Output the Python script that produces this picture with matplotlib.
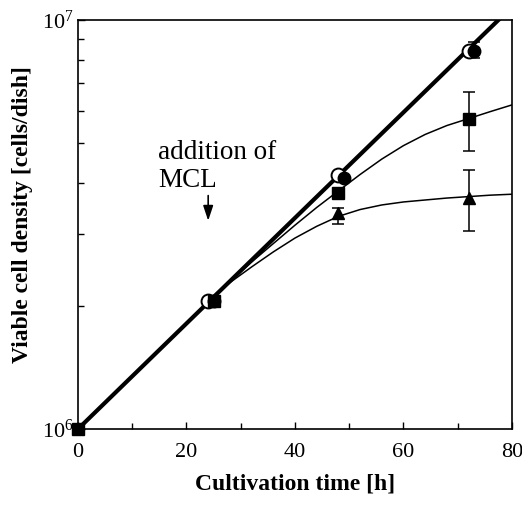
import numpy as np
import matplotlib
matplotlib.use("Agg")
import matplotlib.pyplot as plt
from matplotlib.ticker import LogLocator, FixedLocator, NullFormatter

plt.rcParams["font.family"] = ["Liberation Serif", "DejaVu Serif"]
plt.rcParams["mathtext.fontset"] = "custom"
plt.rcParams["mathtext.rm"] = "Liberation Serif"
plt.rcParams["mathtext.it"] = "Liberation Serif:italic"

# control (open circles) and the exponential growth line
ctrl_t = [0, 24, 48, 72]
ctrl_n = [1.0e6, 2.06e6, 4.18e6, 8.40e6]
line_t = [0, 80]
line_n = [1.0e6, 1.077e7]

# filled circles
fc_t = [25, 49, 73]
fc_n = [2.06e6, 4.11e6, 8.40e6]
fc_lo = [2.06e6, 4.11e6, 8.08e6]
fc_hi = [2.06e6, 4.11e6, 8.84e6]

# filled squares
sq_t = [0, 25, 48, 72]
sq_n = [1.0e6, 2.06e6, 3.78e6, 5.73e6]
sq_lo = [1.0e6, 2.06e6, 3.78e6, 4.78e6]
sq_hi = [1.0e6, 2.06e6, 3.78e6, 6.67e6]

# triangles
tr_t = [48, 72]
tr_n = [3.37e6, 3.67e6]
tr_lo = [3.17e6, 3.05e6]
tr_hi = [3.47e6, 4.30e6]

# fitted curves after the MCL addition
curve_t = [24, 28, 32, 36, 40, 44, 48, 52, 56, 60, 64, 68, 72, 76, 80]
sq_curve_n = [2.06e6, 2.30e6, 2.56e6, 2.84e6, 3.15e6, 3.48e6, 3.82e6, 4.19e6,
              4.57e6, 4.93e6, 5.25e6, 5.52e6, 5.74e6, 5.97e6, 6.20e6]
tr_curve_n = [2.06e6, 2.28e6, 2.49e6, 2.71e6, 2.93e6, 3.13e6, 3.31e6, 3.44e6,
              3.53e6, 3.59e6, 3.63e6, 3.67e6, 3.70e6, 3.73e6, 3.75e6]


def yerr(n, lo, hi):
    n = np.array(n)
    return [n - np.array(lo), np.array(hi) - n]


fig = plt.figure(figsize=(5.22, 5.07), dpi=100)
ax = fig.add_axes([0.1494, 0.1538, 0.8314, 0.8068])

ax.plot(line_t, line_n, color="black", lw=3.0, solid_capstyle="butt", zorder=3)
ax.plot(curve_t, sq_curve_n, color="black", lw=1.1, zorder=2)
ax.plot(curve_t, tr_curve_n, color="black", lw=1.1, zorder=2)

eb = dict(ecolor="black", elinewidth=1.1, capsize=4, capthick=1.1, linestyle="none")
ax.errorbar(fc_t, fc_n, yerr=yerr(fc_n, fc_lo, fc_hi), marker="o", ms=9,
            mfc="black", mec="black", zorder=4, **eb)
ax.errorbar(sq_t, sq_n, yerr=yerr(sq_n, sq_lo, sq_hi), marker="s", ms=8,
            mfc="black", mec="black", zorder=5, clip_on=False, **eb)
ax.errorbar(tr_t, tr_n, yerr=yerr(tr_n, tr_lo, tr_hi), marker="^", ms=8,
            mfc="black", mec="black", zorder=5, **eb)
ax.plot(ctrl_t[1:], ctrl_n[1:], marker="o", ms=10, mfc="white", mec="black", mew=1.4,
        linestyle="none", zorder=4)

ax.set_yscale("log")
ax.set_xlim(0, 80)
ax.set_ylim(1e6, 1e7)
ax.set_xticks([0, 20, 40, 60, 80])
ax.xaxis.set_minor_locator(FixedLocator([10, 30, 50, 70]))
ax.yaxis.set_major_locator(LogLocator(base=10))
ax.yaxis.set_minor_locator(LogLocator(base=10, subs=np.arange(2, 10)))
ax.yaxis.set_minor_formatter(NullFormatter())

ax.tick_params(axis="x", which="major", direction="in", length=5, width=1.0,
               labelsize=16, pad=10, top=False)
ax.tick_params(axis="x", which="minor", direction="in", length=4, width=1.0, top=False)
ax.tick_params(axis="y", which="major", direction="in", length=5, width=1.0,
               labelsize=16, pad=3, right=False)
ax.tick_params(axis="y", which="minor", direction="in", length=4, width=1.0, right=False)
for s in ax.spines.values():
    s.set_linewidth(1.2)

ax.set_xlabel("Cultivation time [h]", fontsize=17, fontweight="bold", labelpad=8)
ax.set_ylabel("Viable cell density [cells/dish]", fontsize=17, fontweight="bold")
ax.yaxis.set_label_coords(-0.104, 0.524)

ax.text(0.184, 0.659, "addition of", transform=ax.transAxes, fontsize=19.5,
        ha="left", va="baseline")
ax.text(0.184, 0.591, "MCL", transform=ax.transAxes, fontsize=19.5,
        ha="left", va="baseline")
ax.annotate("", xy=(24, 3.18e6), xytext=(24, 3.78e6),
            arrowprops=dict(arrowstyle="-|>,head_length=0.9,head_width=0.3",
                            color="black", lw=1.2))

fig.savefig("out.png", dpi=100)
